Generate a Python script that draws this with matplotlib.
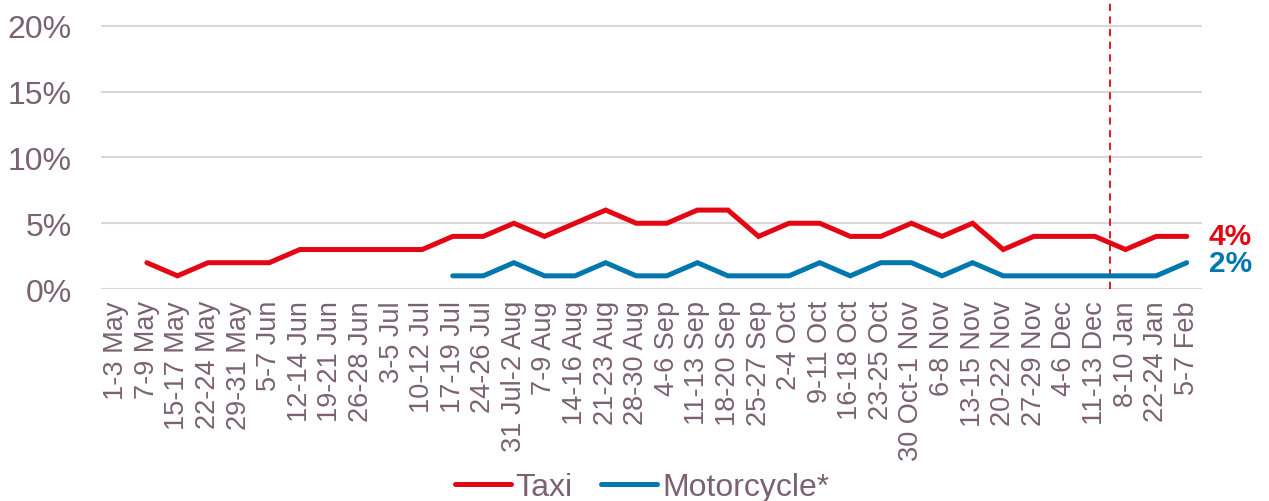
import matplotlib
matplotlib.use("Agg")
import matplotlib.pyplot as plt

categories = ["1-3 May", "7-9 May", "15-17 May", "22-24 May", "29-31 May", "5-7 Jun",
              "12-14 Jun", "19-21 Jun", "26-28 Jun", "3-5 Jul", "10-12 Jul", "17-19 Jul",
              "24-26 Jul", "31 Jul-2 Aug", "7-9 Aug", "14-16 Aug", "21-23 Aug", "28-30 Aug",
              "4-6 Sep", "11-13 Sep", "18-20 Sep", "25-27 Sep", "2-4 Oct", "9-11 Oct",
              "16-18 Oct", "23-25 Oct", "30 Oct-1 Nov", "6-8 Nov", "13-15 Nov", "20-22 Nov",
              "27-29 Nov", "4-6 Dec", "11-13 Dec", "8-10 Jan", "22-24 Jan", "5-7 Feb"]

taxi = [None, 2, 1, 2, 2, 2, 3, 3, 3, 3, 3, 4, 4, 5, 4, 5, 6, 5, 5, 6, 6, 4, 5, 5,
        4, 4, 5, 4, 5, 3, 4, 4, 4, 3, 4, 4]
motorcycle = [None] * 11 + [1, 1, 2, 1, 1, 2, 1, 1, 2, 1, 1, 1, 2, 1, 2, 2, 1, 2, 1,
                            1, 1, 1, 1, 1, 2]

yticks = [0, 5, 10, 15, 20]
ytick_labels = ["0%", "5%", "10%", "15%", "20%"]
divider_pos = 32.5

RED = "#E30613"
BLUE = "#0078AE"
TXT = "#7A6272"
GRID = "#DDD5D9"

plt.rcParams['font.family'] = ['Liberation Sans', 'DejaVu Sans']

fig = plt.figure(figsize=(12.69, 5.02), dpi=100)
ax = fig.add_axes([101 / 1269, (502 - 290) / 502, (1202 - 101) / 1269, 290 / 502])

x = list(range(len(categories)))
tx = [i for i, v in zip(x, taxi) if v is not None]
ty = [v for v in taxi if v is not None]
mx = [i for i, v in zip(x, motorcycle) if v is not None]
my = [v for v in motorcycle if v is not None]

ax.plot(tx, ty, color=RED, lw=3.6, solid_joinstyle='miter', solid_capstyle='round',
        label="Taxi", zorder=3)
ax.plot(mx, my, color=BLUE, lw=3.6, solid_joinstyle='miter', solid_capstyle='round',
        label="Motorcycle*", zorder=3)

ax.axvline(divider_pos, color=RED, lw=1.3, ls=(0, (4, 3)), zorder=2)

ax.set_xlim(-0.5, len(categories) - 0.5)
ax.set_ylim(0, 22.05)
ax.set_yticks(yticks)
ax.set_yticklabels(ytick_labels)
ax.set_xticks(x)
ax.set_xticklabels(categories, rotation=90, va='top', ha='center')
ax.tick_params(axis='x', length=0, pad=8, labelsize=19.5, labelcolor=TXT)
ax.tick_params(axis='y', length=0, pad=21, labelsize=23, labelcolor=TXT)

ax.grid(axis='y', color=GRID, lw=1.5, zorder=0)
ax.set_axisbelow(True)
for s in ax.spines.values():
    s.set_visible(False)

ax.annotate(f"{taxi[-1]}%", xy=(x[-1], taxi[-1]), xytext=(16, 0.5), textcoords='offset points',
            color=RED, fontsize=21.5, fontweight='bold', va='center', ha='left',
            annotation_clip=False)
ax.annotate(f"{motorcycle[-1]}%", xy=(x[-1], motorcycle[-1]), xytext=(16, -0.5),
            textcoords='offset points', color=BLUE, fontsize=21.5, fontweight='bold',
            va='center', ha='left', annotation_clip=False)

leg = fig.legend(loc='center', bbox_to_anchor=(642 / 1269, 1 - 488 / 502), ncol=2,
                 frameon=False, fontsize=23, handlelength=1.75, handletextpad=0.15,
                 columnspacing=0.9)
for t in leg.get_texts():
    t.set_color(TXT)

fig.savefig("out.png", dpi=100)
